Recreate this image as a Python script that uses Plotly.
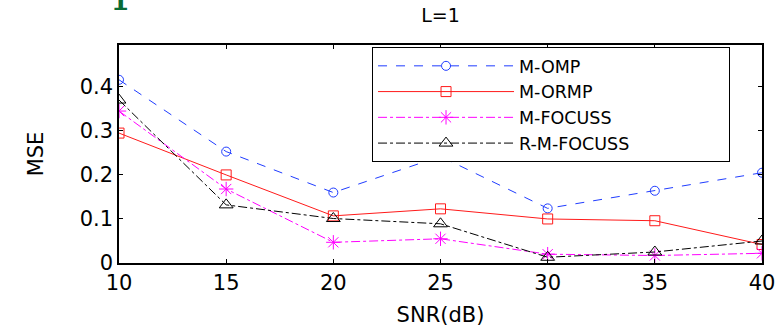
import plotly.graph_objects as go

snr = [10, 15, 20, 25, 30, 35, 40]
m_omp = [0.416, 0.253, 0.160, 0.242, 0.124, 0.164, 0.205]
m_ormp = [0.295, 0.200, 0.107, 0.123, 0.100, 0.096, 0.042]
m_focuss = [0.345, 0.168, 0.047, 0.055, 0.020, 0.017, 0.022]
r_m_focuss = [0.370, 0.132, 0.101, 0.089, 0.013, 0.025, 0.050]
x_ticks = [10, 15, 20, 25, 30, 35, 40]
y_ticks = [0, 0.1, 0.2, 0.3, 0.4]
y_tick_labels = ["0", "0.1", "0.2", "0.3", "0.4"]

FONT = "DejaVu Sans"
pad = "\u00a0" * 17

fig = go.Figure()
fig.add_trace(go.Scatter(x=snr, y=m_omp, name="M-OMP", mode="lines+markers",
                         line=dict(color="#1f3cff", width=1, dash="dash"),
                         marker=dict(symbol="circle-open", size=9, color="#1f3cff", line=dict(width=1))))
fig.add_trace(go.Scatter(x=snr, y=m_ormp, name="M-ORMP", mode="lines+markers",
                         line=dict(color="#ff1a1a", width=1, dash="solid"),
                         marker=dict(symbol="square-open", size=10, color="#ff1a1a", line=dict(width=1))))
fig.add_trace(go.Scatter(x=snr, y=m_focuss, name="M-FOCUSS", mode="lines+markers",
                         line=dict(color="#ff00ff", width=1, dash="dashdot"),
                         marker=dict(symbol="asterisk-open", size=12, color="#ff00ff", line=dict(width=1, color="#ff00ff"))))
fig.add_trace(go.Scatter(x=snr, y=r_m_focuss, name="R-M-FOCUSS" + pad, mode="lines+markers",
                         line=dict(color="#000000", width=1, dash="dashdot"),
                         marker=dict(symbol="triangle-up-open", size=12, color="#000000", line=dict(width=1))))

fig.update_layout(
    width=780, height=329,
    margin=dict(l=119, r=18, t=45, b=66),
    paper_bgcolor="white", plot_bgcolor="white",
    font=dict(family=FONT, size=20, color="black"),
    title=dict(text="L=1", x=0.5648, xanchor="center", y=0.953, yanchor="middle",
               font=dict(family=FONT, size=19, color="black")),
    legend=dict(x=0.3935, y=0.991, xanchor="left", yanchor="top",
                bordercolor="black", borderwidth=1, bgcolor="white",
                font=dict(family=FONT, size=17.5), itemwidth=136,
                tracegroupgap=0),
    showlegend=True,
)
fig.update_xaxes(range=[10, 40], tickvals=x_ticks, ticks="inside", ticklen=4,
                 tickcolor="black", showline=True, linecolor="black", linewidth=1.5,
                 mirror="allticks", showgrid=False, zeroline=False, automargin=False,
                 tickfont=dict(family=FONT, size=21),
                 title=dict(text="SNR(dB)", font=dict(family=FONT, size=21), standoff=13))
fig.update_yaxes(range=[0, 0.495], tickvals=y_ticks, ticktext=y_tick_labels, ticks="inside",
                 ticklen=4, tickcolor="black", showline=True, linecolor="black", linewidth=1.5,
                 mirror="allticks", showgrid=False, zeroline=False, automargin=False,
                 tickfont=dict(family=FONT, size=21),
                 title=dict(text="MSE", font=dict(family=FONT, size=21), standoff=30))

fig.add_annotation(text="I", xref="paper", yref="paper", x=0.002, y=1.105,
                   xanchor="center", yanchor="bottom", showarrow=False,
                   font=dict(family="DejaVu Serif", size=44, color="#0a6b35"))

fig.write_html("out.html")
